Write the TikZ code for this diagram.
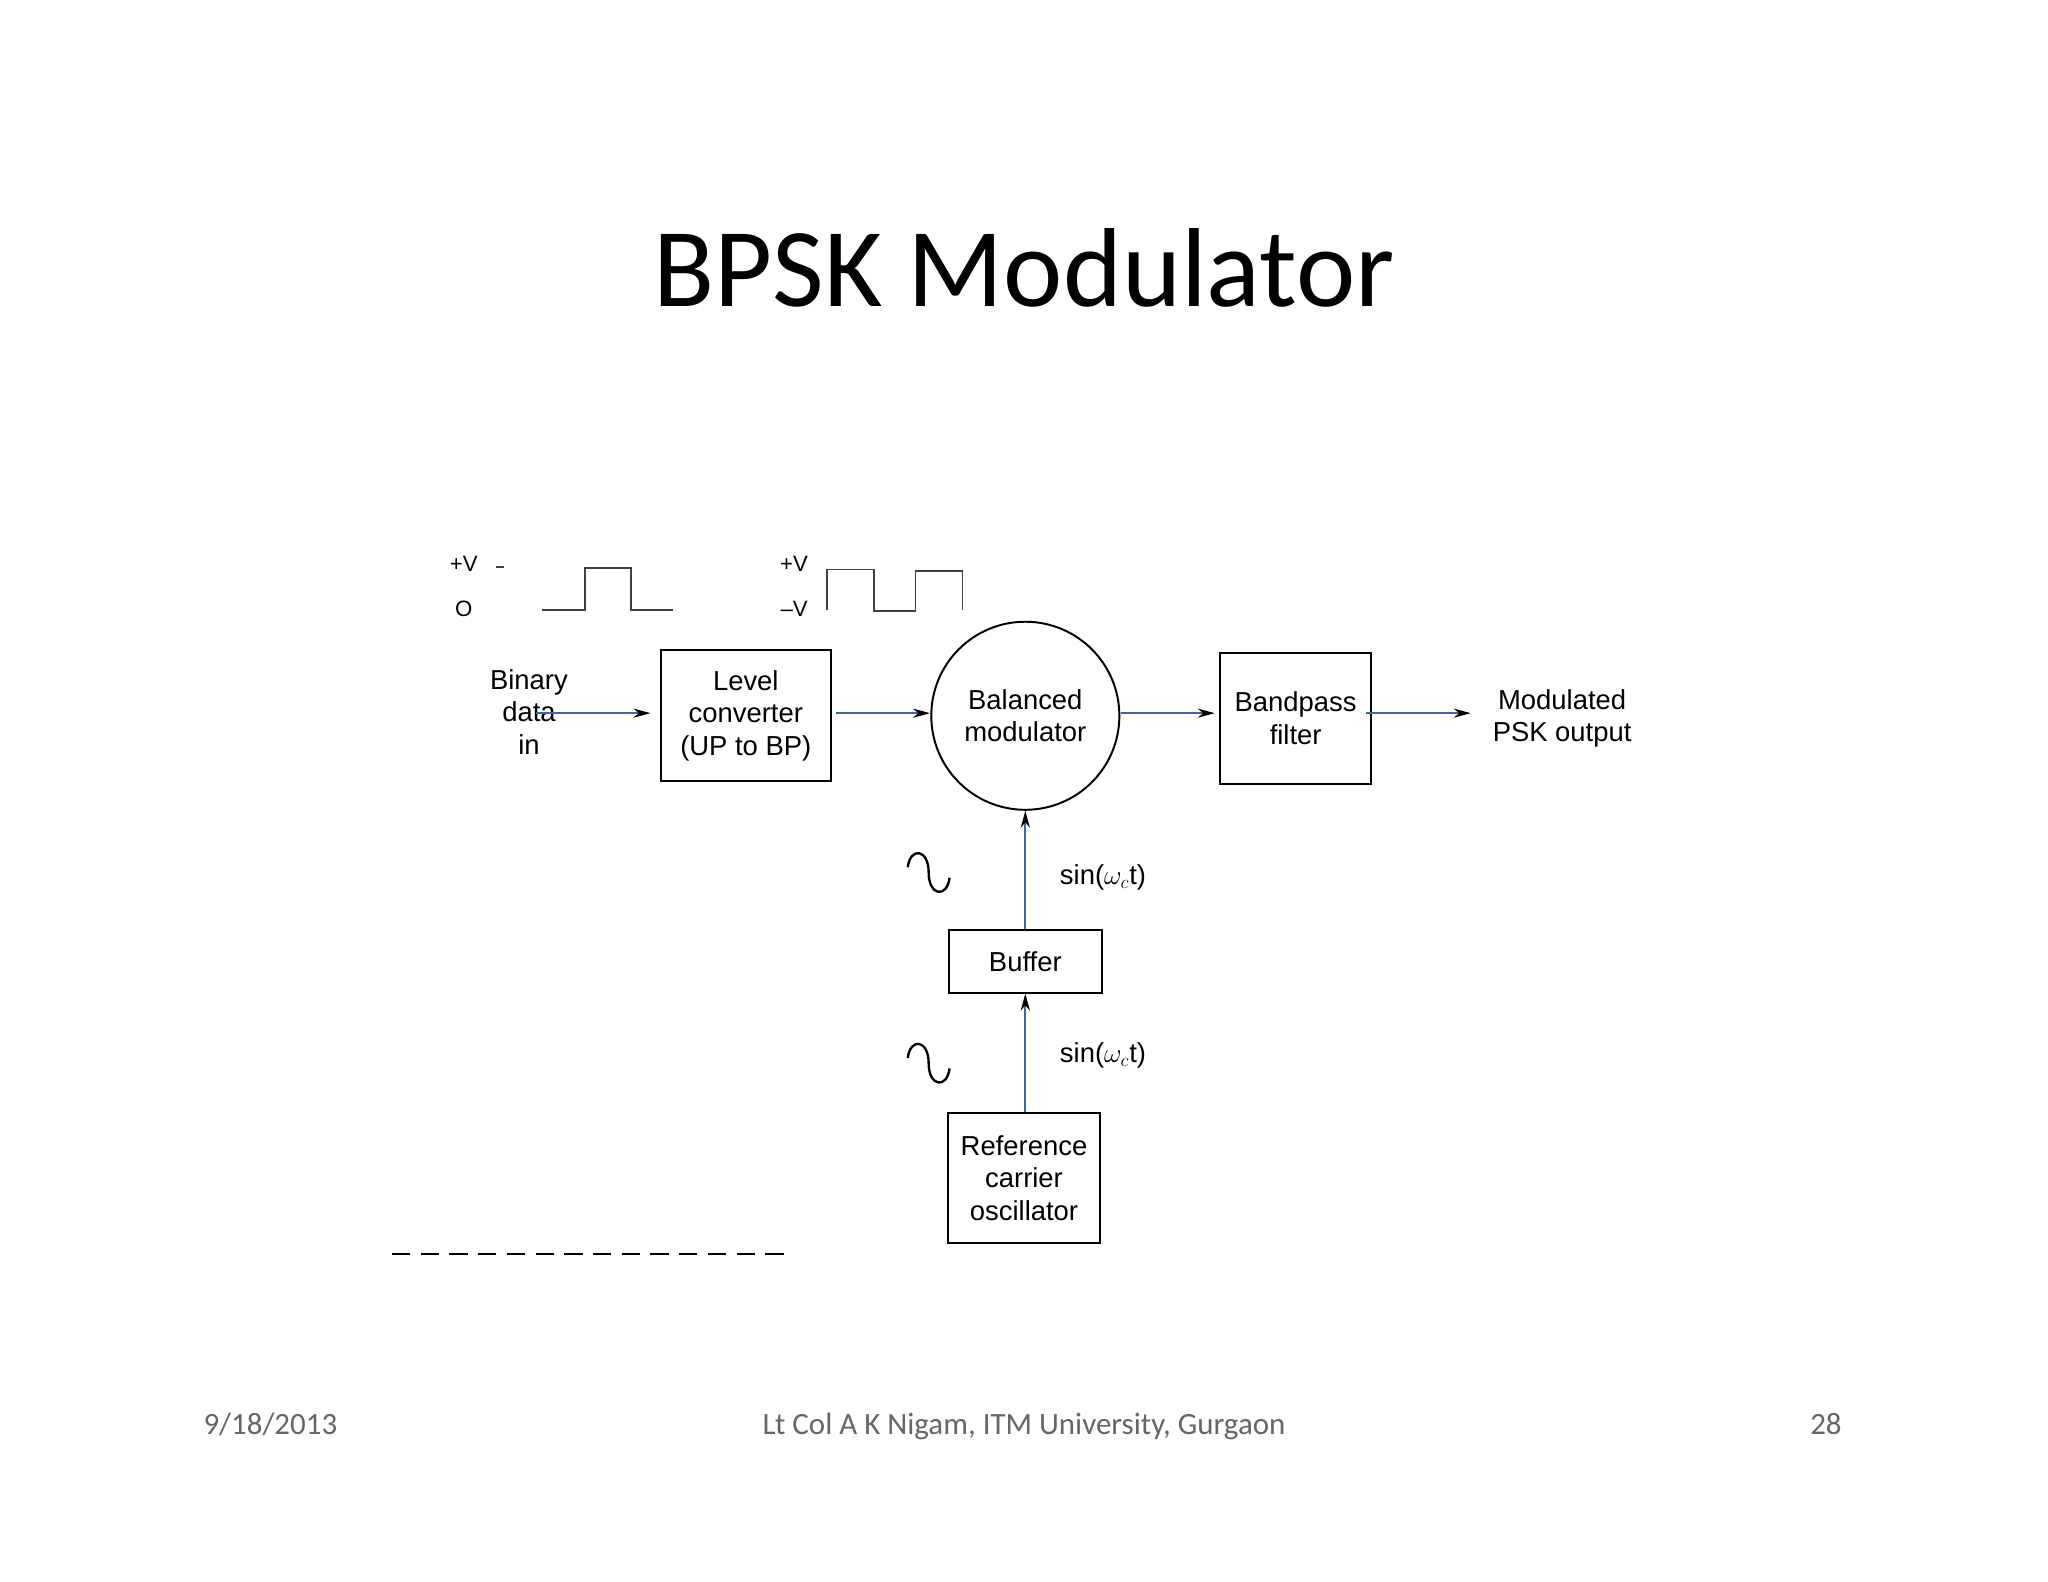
\documentclass[tikz,border=0pt]{standalone}
\usepackage{fontspec}
\setmainfont{Liberation Sans}
\newfontfamily\calib{Carlito}
\usetikzlibrary{arrows.meta,calc}
\begin{document}
\begin{tikzpicture}[x=1pt,y=-1pt,
  blk/.style={draw,line width=1.5pt,align=center,font=\fontsize{21}{25}\selectfont},
  lbl/.style={align=center,font=\fontsize{21}{25}\selectfont},
  con/.style={draw={rgb,255:red,60;green,100;blue,170},line width=1.3pt,-{Stealth[length=13pt,width=7pt,black]}},
  wave/.style={line width=1.2pt,draw=black!75},
  foot/.style={font=\calib\fontsize{23.7}{28}\selectfont,text=black!60,anchor=base}]
\useasboundingbox (0,0) rectangle (1568,1211);
\fill[white] (0,0) rectangle (1568,1211);
\node[font=\calib\fontsize{86}{96}\selectfont] (title) at (784,205) {BPSK Modulator};
% blocks
\node[blk,minimum width=130pt,minimum height=100pt] (lev) at (571,548) {Level\\converter\\(UP to BP)};
\node[blk,circle,minimum size=144pt,inner sep=0pt] (bal) at (785,548) {Balanced\\modulator};
\node[blk,minimum width=116pt,minimum height=100pt] (bpf) at (992,550) {Bandpass\\filter};
\node[blk,minimum width=117pt,minimum height=48pt] (buf) at (785,736) {Buffer};
\node[blk,minimum width=117pt,minimum height=100pt] (ref) at (784,902) {Reference\\carrier\\oscillator};
\node[lbl] (bin) at (405,545) {Binary\\data\\in};
\node[lbl] (out) at (1196,550) {Modulated\\PSK output};
\coordinate (binr) at (410,546);
\coordinate (levin) at (498,546);
\coordinate (levout) at (640,546);
\coordinate (balin) at (712,546);
\coordinate (balout) at (858,546);
\coordinate (bpfin) at (930,546);
\coordinate (bpfout) at (1046,546);
\coordinate (outl) at (1126,546);
\draw[con] (binr) -- (levin);
\draw[con] (levout) -- (balin);
\draw[con] (balout) -- (bpfin);
\draw[con] (bpfout) -- (outl);
\draw[con] (buf.north) -- (bal.south);
\draw[con] (ref.north -| buf.south) -- (buf.south);
\node[lbl,anchor=west] (s1) at (808,672) {sin($\omega_c$t)};
\node[lbl,anchor=west] (s2) at (808,808) {sin($\omega_c$t)};
% sine glyphs
\draw[line width=1.8pt] (695,664) .. controls (697,648) and (711,650) .. (711,668) .. controls (711,686) and (725,688) .. (727,672);
\draw[line width=1.8pt] (695,810) .. controls (697,794) and (711,796) .. (711,814) .. controls (711,832) and (725,834) .. (727,818);
% waveforms
\node[lbl,font=\fontsize{17}{20}\selectfont] (pv1) at (355,432) {+V};
\node[lbl,font=\fontsize{17}{20}\selectfont] (z1) at (355,466) {O};
\draw[wave] (380,434) -- (386,434);
\draw[wave] (415,467) -- (448,467) -- (448,435) -- (483,435) -- (483,467) -- (515,467);
\node[lbl,font=\fontsize{17}{20}\selectfont] (pv2) at (608,432) {+V};
\node[lbl,font=\fontsize{17}{20}\selectfont] (mv2) at (608,466) {--V};
\draw[wave] (633,467) -- (633,436) -- (669,436) -- (669,468) -- (701,468) -- (701,437) -- (737,437) -- (737,467);
% remnant
\draw[line width=2pt,dash pattern=on 14pt off 8pt] (300,960) -- (605,960);
% footer
\node[foot] (f1) at (207,1098) {9/18/2013};
\node[foot] (f2) at (784,1098) {Lt Col A K Nigam, ITM University, Gurgaon};
\node[foot] (f3) at (1398,1098) {28};
\end{tikzpicture}
\end{document}
